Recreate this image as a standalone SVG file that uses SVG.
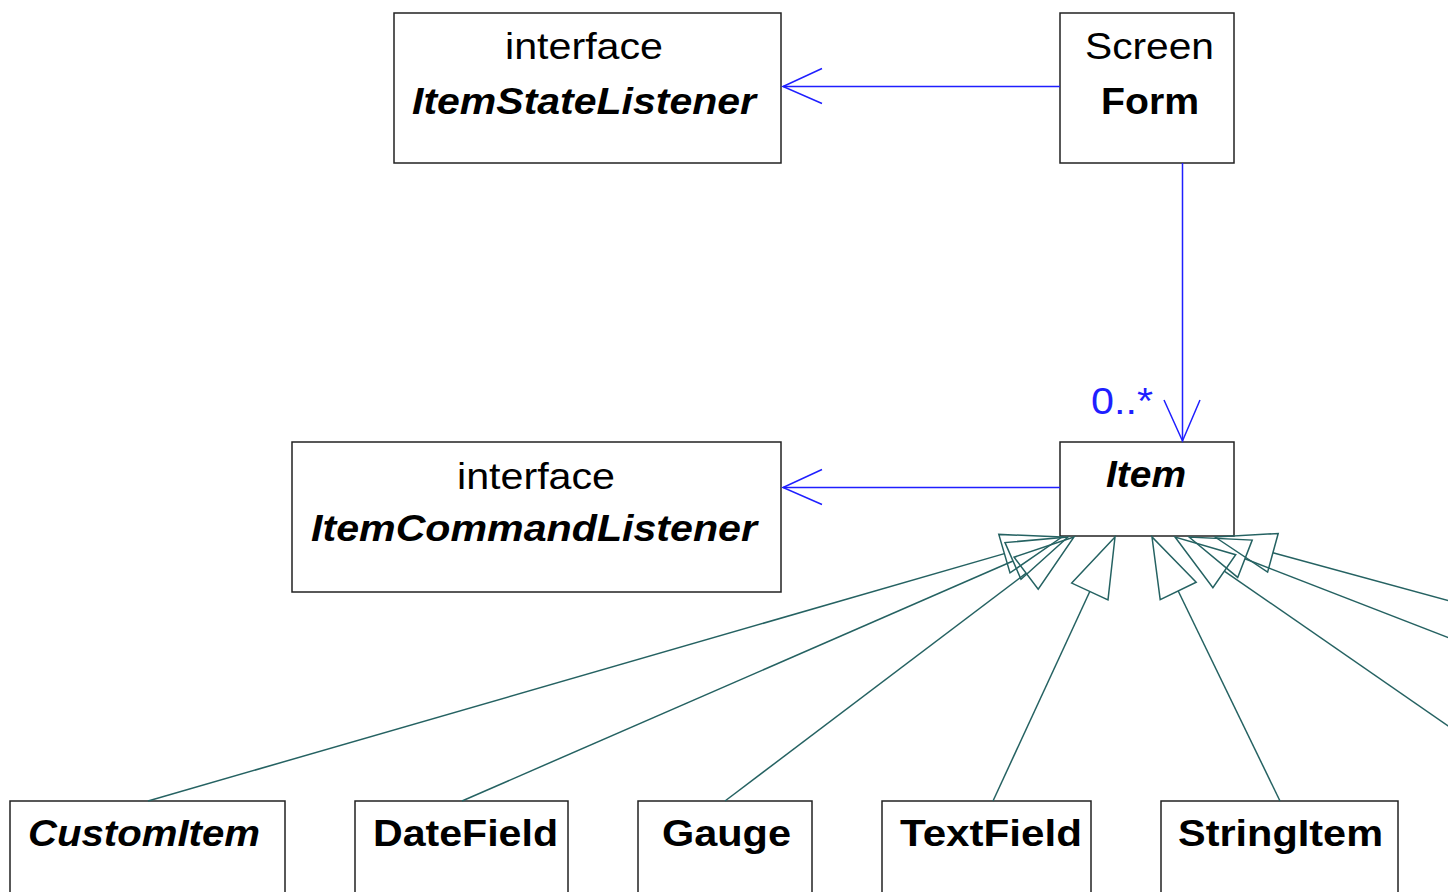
<svg xmlns="http://www.w3.org/2000/svg" width="1448" height="892" viewBox="0 0 1448 892">
  <style>
    .box { fill: #ffffff; stroke: #222222; stroke-width: 1.5; }
    .txt { font-family: "Liberation Sans", Arial, sans-serif; font-size: 36px; fill: #000000; }
    .b { font-weight: bold; }
    .bi { font-weight: bold; font-style: italic; }
    .assoc { stroke: #1f1fff; stroke-width: 1.5; fill: none; }
    .gen { stroke: #256262; stroke-width: 1.5; fill: none; }
    .mult { font-family: "Liberation Sans", Arial, sans-serif; font-size: 36px; fill: #1f1fff; }
  </style>
  <rect width="1448" height="892" fill="#ffffff"/>

  <g id="ItemStateListener">
    <rect class="box" x="394" y="13" width="387" height="150"/>
    <text class="txt" x="505" y="59" textLength="158" lengthAdjust="spacingAndGlyphs">interface</text>
    <text class="txt bi" x="412" y="114" textLength="344" lengthAdjust="spacingAndGlyphs">ItemStateListener</text>
  </g>

  <g id="Form">
    <rect class="box" x="1060" y="13" width="174" height="150"/>
    <text class="txt" x="1085" y="59" textLength="129" lengthAdjust="spacingAndGlyphs">Screen</text>
    <text class="txt b" x="1101" y="114" textLength="98" lengthAdjust="spacingAndGlyphs">Form</text>
  </g>

  <g id="ItemCommandListener">
    <rect class="box" x="292" y="442" width="489" height="150"/>
    <text class="txt" x="457" y="489" textLength="158" lengthAdjust="spacingAndGlyphs">interface</text>
    <text class="txt bi" x="311" y="541" textLength="446" lengthAdjust="spacingAndGlyphs">ItemCommandListener</text>
  </g>

  <g id="Item">
    <rect class="box" x="1060" y="442" width="174" height="94"/>
    <text class="txt bi" x="1106" y="487" textLength="80" lengthAdjust="spacingAndGlyphs">Item</text>
  </g>

  <g id="CustomItem">
    <rect class="box" x="10" y="801" width="275" height="140"/>
    <text class="txt bi" x="28" y="846" textLength="232" lengthAdjust="spacingAndGlyphs">CustomItem</text>
  </g>

  <g id="DateField">
    <rect class="box" x="355" y="801" width="213" height="140"/>
    <text class="txt b" x="373" y="846" textLength="185" lengthAdjust="spacingAndGlyphs">DateField</text>
  </g>

  <g id="Gauge">
    <rect class="box" x="638" y="801" width="174" height="140"/>
    <text class="txt b" x="662" y="846" textLength="129" lengthAdjust="spacingAndGlyphs">Gauge</text>
  </g>

  <g id="TextField">
    <rect class="box" x="882" y="801" width="209" height="140"/>
    <text class="txt b" x="900" y="846" textLength="182" lengthAdjust="spacingAndGlyphs">TextField</text>
  </g>

  <g id="StringItem">
    <rect class="box" x="1161" y="801" width="237" height="140"/>
    <text class="txt b" x="1178" y="846" textLength="205" lengthAdjust="spacingAndGlyphs">StringItem</text>
  </g>

  <g id="connectors">
    <!-- navigable associations with open arrowheads -->
    <g id="form-to-statelistener">
      <line class="assoc" x1="1060" y1="86.5" x2="783" y2="86.5"/>
      <polyline class="assoc" points="822,68.5 783,86.5 822,103.5"/>
    </g>
    <g id="form-to-item">
      <line class="assoc" x1="1182.5" y1="163" x2="1182.5" y2="441"/>
      <polyline class="assoc" points="1164,400 1182.5,441 1200,400"/>
      <text class="mult" x="1091" y="414" textLength="62" lengthAdjust="spacingAndGlyphs">0..*</text>
    </g>
    <g id="item-to-commandlistener">
      <line class="assoc" x1="1060" y1="487.5" x2="783" y2="487.5"/>
      <polyline class="assoc" points="822,469.5 783,487.5 822,504.5"/>
    </g>

    <!-- generalizations with hollow triangle heads -->
    <g id="customitem-gen">
      <line class="gen" x1="148" y1="801" x2="1004.4" y2="553.6"/>
      <polygon class="gen" points="1062,537 998.8,534.4 1010,572.9"/>
    </g>
    <g id="datefield-gen">
      <line class="gen" x1="462" y1="801" x2="1013" y2="561"/>
      <polygon class="gen" points="1068,537 1005,542.6 1021,579.3"/>
    </g>
    <g id="gauge-gen">
      <line class="gen" x1="725" y1="801" x2="1026.2" y2="573.2"/>
      <polygon class="gen" points="1074,537 1014.1,557.2 1038.2,589.2"/>
    </g>
    <g id="textfield-gen">
      <line class="gen" x1="993" y1="801" x2="1089.8" y2="591.5"/>
      <polygon class="gen" points="1115,537 1071.7,583.1 1108,599.9"/>
    </g>
    <g id="stringitem-gen">
      <line class="gen" x1="1280" y1="801" x2="1178.2" y2="591"/>
      <polygon class="gen" points="1152,537 1160.2,599.7 1196.2,582.3"/>
    </g>
    <g id="right-gen-a">
      <line class="gen" x1="1224.3" y1="571.1" x2="1470" y2="741"/>
      <polygon class="gen" points="1175,537 1212.9,587.6 1235.7,554.7"/>
    </g>
    <g id="right-gen-b">
      <line class="gen" x1="1244.9" y1="558.7" x2="1470" y2="646"/>
      <polygon class="gen" points="1189,537 1237.7,577.4 1252.2,540.1"/>
    </g>
    <g id="right-gen-c">
      <line class="gen" x1="1272.9" y1="552.8" x2="1470" y2="606.5"/>
      <polygon class="gen" points="1215,537 1267.6,572.1 1278.2,533.5"/>
    </g>
  </g>
</svg>
